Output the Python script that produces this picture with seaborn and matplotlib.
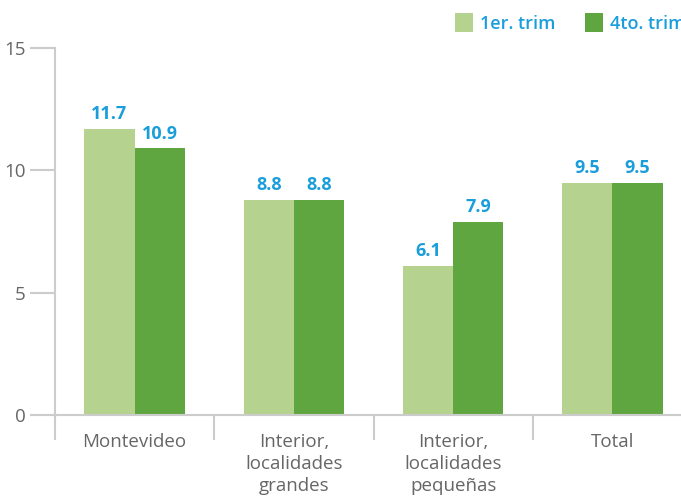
import matplotlib
matplotlib.use("Agg")
import matplotlib.pyplot as plt
import seaborn as sns
import pandas as pd
from matplotlib.patches import Patch

categories = ["Montevideo", "Interior,\nlocalidades\ngrandes", "Interior,\nlocalidades\npequeñas", "Total"]
series_names = ["1er. trim", "4to. trim"]
trim1 = [11.7, 8.8, 6.1, 9.5]
trim4 = [10.9, 8.8, 7.9, 9.5]
yticks = [0, 5, 10, 15]

colors = ["#b5d38f", "#5fa641"]
blue = "#1a9edb"
gray = "#666666"
linec = "#cccccc"

df = pd.DataFrame({
    "cat": categories * 2,
    "serie": [series_names[0]] * 4 + [series_names[1]] * 4,
    "val": trim1 + trim4,
})

sns.set_theme(style="white")
plt.rcParams["font.family"] = ["Open Sans", "DejaVu Sans"]

fig = plt.figure(figsize=(6.81, 4.96), dpi=100)
ax = fig.add_axes([55 / 681, 81 / 496, (692 - 55) / 681, (415 - 48) / 496])

sns.barplot(data=df, x="cat", y="val", hue="serie", palette=colors, width=0.63,
            ax=ax, legend=False, saturation=1, linewidth=0)

for cont in ax.containers:
    ax.bar_label(cont, fmt="%.1f", padding=4, color=blue, fontsize=13, fontweight="bold")

ax.set_xlim(-0.5, 3.5)
ax.set_ylim(0, 15)
ax.set_yticks(yticks)
ax.set_xlabel("")
ax.set_ylabel("")

for s in ["top", "right"]:
    ax.spines[s].set_visible(False)
for s in ["left", "bottom"]:
    ax.spines[s].set_color(linec)
    ax.spines[s].set_linewidth(1.5)

ax.tick_params(axis="y", which="major", length=18, width=1.5, color=linec,
               labelcolor=gray, labelsize=13.5, pad=3, left=True)
ax.tick_params(axis="x", which="major", length=0, labelcolor=gray, labelsize=13.5, pad=13)
ax.set_xticks([-0.5, 0.5, 1.5, 2.5, 3.5], minor=True)
ax.tick_params(axis="x", which="minor", length=18, width=1.5, color=linec, bottom=True)
for lab in ax.get_xticklabels():
    lab.set_linespacing(1.3)
    lab.set_verticalalignment("top")

handles = [Patch(facecolor=c, edgecolor="none") for c in colors]
leg = fig.legend(handles, series_names, loc="upper left", bbox_to_anchor=(448 / 681, 1 - 6 / 496),
                 ncol=2, frameon=False, fontsize=13, handlelength=1.0, handleheight=1.2,
                 handletextpad=0.4, columnspacing=1.6, borderaxespad=0)
for t in leg.get_texts():
    t.set_color(blue)
    t.set_fontweight("semibold")

fig.savefig("out.png", dpi=100)
